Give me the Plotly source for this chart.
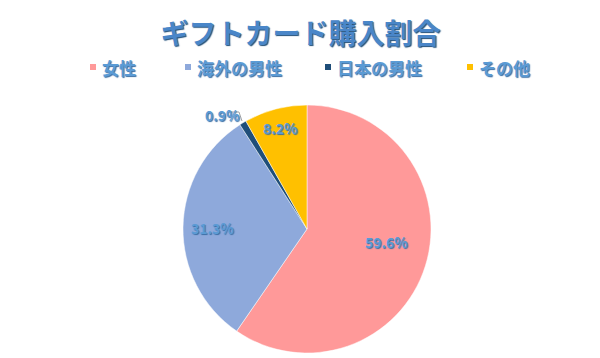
import math
import plotly.graph_objects as go

categories = ["女性", "海外の男性", "日本の男性", "その他"]
values = [59.6, 31.3, 0.9, 8.2]
colors = ["#FF9999", "#8EA9DB", "#1F4E79", "#FFC000"]
title_text = "ギフトカード購入割合"

# figure is drawn 8px smaller because the page body has an 8px margin
W, H = 592, 350
FONT = "Noto Sans CJK JP, Noto Sans, sans-serif"
TXT = "#5B9BD5"
SHADOW = "1px 1px 1px #3a6ea5"

# pie geometry (pixels within the figure)
CX, CY, R = 299, 221, 124
label_radius = [0.67, 0.76, None, 0.84]   # fraction of radius for inside labels

fig = go.Figure(go.Pie(
    labels=categories,
    values=values,
    sort=False,
    direction="clockwise",
    rotation=0,
    marker=dict(colors=colors, line=dict(color="white", width=0.5)),
    textinfo="none",
    domain=dict(x=[(CX - R) / W, (CX + R) / W], y=[1 - (CY + R) / H, 1 - (CY - R) / H]),
    hoverinfo="label+percent",
    showlegend=False,
))

# data labels, positioned from the slice angles
total = sum(values)
cum = 0.0
for v, rf in zip(values, label_radius):
    mid = (cum + v / 2) / total * 2 * math.pi
    cum += v
    if rf is None:
        continue
    px = CX + rf * R * math.sin(mid)
    py = CY - rf * R * math.cos(mid)
    fig.add_annotation(x=px / W, y=1 - py / H, xref="paper", yref="paper",
                       text=f"<b>{v}%</b>", showarrow=False,
                       font=dict(family=FONT, size=14, color=TXT, shadow=SHADOW))

# small slice label placed outside with a leader line
small_idx = 2
fig.add_annotation(
    x=195 / W, y=1 - 95 / H, xref="paper", yref="paper",
    text=f"<b>{values[small_idx]}%</b>",
    showarrow=False,
    font=dict(family=FONT, size=14, color=TXT, shadow=SHADOW),
)
fig.add_shape(type="path", xref="paper", yref="paper",
              path=f"M {223/W} {1-104/H} L {231/W} {1-104/H} L {234/W} {1-113/H}",
              line=dict(color="#A6A6A6", width=1))

# legend drawn manually (small squares + bold text)
legend_x = [82, 177, 317, 459]
LEG_Y = 59
for name, col, lx in zip(categories, colors, legend_x):
    fig.add_shape(type="rect", xref="paper", yref="paper",
                  x0=lx / W, x1=(lx + 6) / W, y0=1 - (LEG_Y + 3) / H, y1=1 - (LEG_Y - 3) / H,
                  fillcolor=col, line=dict(width=0))
    fig.add_annotation(x=(lx + 10) / W, y=1 - LEG_Y / H, xref="paper", yref="paper",
                       xanchor="left", yanchor="middle", showarrow=False,
                       text=f"<b>{name}</b>",
                       font=dict(family=FONT, size=17, color=TXT, shadow=SHADOW))

fig.update_layout(
    width=W, height=H,
    margin=dict(l=0, r=0, t=0, b=0),
    paper_bgcolor="white",
    plot_bgcolor="white",
    title=dict(text=f"<b>{title_text}</b>", x=0.494, xanchor="center", y=1 - 26 / H, yanchor="middle",
               font=dict(family=FONT, size=28, color="#4A86C8", shadow="1px 1px 1px #1F4E79")),
    showlegend=False,
)

fig.write_html("out.html")
